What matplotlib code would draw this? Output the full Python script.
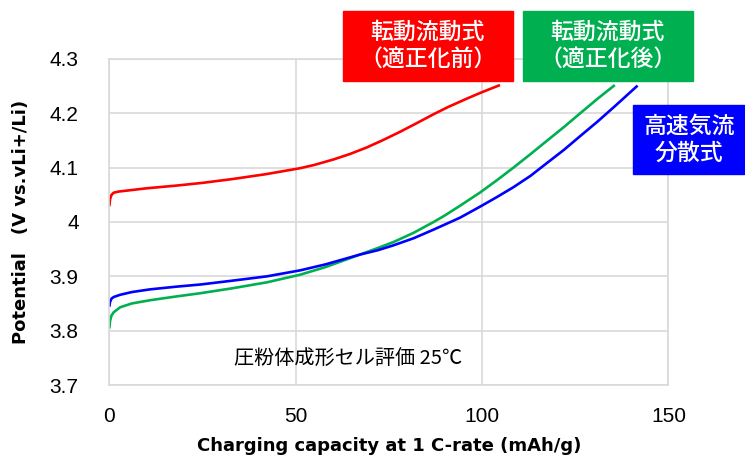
import matplotlib.pyplot as plt

plt.rcParams['font.family'] = ['Noto Sans CJK JP', 'DejaVu Sans']

# curves (capacity mAh/g, potential V)
red_x = [0, 0.2, 0.6, 1.2, 2.5, 5, 10, 18, 25, 33, 42, 51.2, 55, 60.1, 64.5, 69, 73.5, 78, 82.5, 86.9, 91, 95.9, 100, 104.8]
red_y = [4.029, 4.042, 4.050, 4.054, 4.056, 4.058, 4.062, 4.067, 4.072, 4.079, 4.088, 4.099, 4.105, 4.115, 4.125,
         4.137, 4.151, 4.166, 4.182, 4.198, 4.212, 4.227, 4.239, 4.252]

green_x = [0, 0.2, 0.6, 1.2, 2.9, 6, 10.9, 18, 24.5, 33, 42.3, 51.2, 58, 67.2, 72, 76.2, 81.6, 87, 90, 94.1, 99.4,
           104, 108.4, 113, 117.3, 122, 126.3, 131, 135.6]
green_y = [3.804, 3.818, 3.828, 3.834, 3.843, 3.850, 3.856, 3.863, 3.869, 3.878, 3.889, 3.903, 3.917, 3.940, 3.952,
           3.963, 3.980, 4.000, 4.012, 4.030, 4.054, 4.077, 4.100, 4.125, 4.149, 4.175, 4.200, 4.227, 4.252]

blue_x = [0, 0.2, 0.6, 1.2, 2.9, 6, 10.9, 18, 24.5, 33, 42.3, 51.2, 58, 67.2, 72, 76.2, 81.6, 87, 94.1, 99.4,
          104, 108.4, 113, 117.3, 122, 126.3, 131, 135.6, 141.7]
blue_y = [3.844, 3.853, 3.859, 3.862, 3.866, 3.871, 3.876, 3.881, 3.885, 3.892, 3.900, 3.911, 3.922, 3.940, 3.948,
          3.957, 3.970, 3.986, 4.008, 4.028, 4.046, 4.064, 4.085, 4.108, 4.133, 4.158, 4.185, 4.213, 4.251]

labels = ['転動流動式\n（適正化前）', '転動流動式\n（適正化後）', '高速気流\n分散式']
colors = ['#ff0000', '#00b050', '#0000ff']

fig = plt.figure(figsize=(7.45, 4.59), dpi=100)
ax = fig.add_axes([0.1467, 0.1612, 0.7506, 0.7103])

ax.plot(red_x, red_y, color=colors[0], lw=1.9, solid_capstyle='butt')
ax.plot(green_x, green_y, color=colors[1], lw=1.9, solid_capstyle='butt')
ax.plot(blue_x, blue_y, color=colors[2], lw=1.9, solid_capstyle='butt')

ax.set_xlim(0, 150)
ax.set_ylim(3.7, 4.3)
ax.set_xticks([0, 50, 100, 150])
ax.set_yticks([3.7, 3.8, 3.9, 4.0, 4.1, 4.2, 4.3])
ax.set_yticklabels(['3.7', '3.8', '3.9', '4', '4.1', '4.2', '4.3'])
ax.tick_params(length=0, labelsize=15, pad=16)
ax.tick_params(axis='y', pad=22)
for t in ax.get_xticklabels() + ax.get_yticklabels():
    t.set_family('Liberation Sans')
ax.grid(color='#d9d9d9', lw=1.2)
ax.set_axisbelow(True)
for s in ax.spines.values():
    s.set_color('#d9d9d9')
    s.set_linewidth(1.2)

lab_font = ['DejaVu Sans', 'Noto Sans CJK JP']
ax.set_xlabel('Charging capacity at 1 C-rate (mAh/g)', fontsize=13, fontweight='bold',
              family=lab_font, labelpad=8)
ax.set_ylabel('Potential　(V vs.vLi+/Li)', fontsize=13, fontweight='bold',
              family=lab_font, labelpad=14)

ax.text(0.427, 0.08, '圧粉体成形セル評価 25℃', transform=ax.transAxes,
        fontsize=14.5, ha='center', va='center')

# labels boxes (figure pixel coordinates)
boxes = [(342.7, 11, 170, 69.7), (522.7, 11, 170, 69.7), (632.7, 105, 112.3, 69.3)]
W, H = 745, 459
for (bx, by, bw, bh), lab, c in zip(boxes, labels, colors):
    fig.patches.append(plt.Rectangle((bx / W, 1 - (by + bh) / H), bw / W, bh / H,
                                     transform=fig.transFigure, color=c, zorder=5))
    fig.text((bx + bw / 2) / W, 1 - (by + bh / 2) / H, lab, color='white', fontweight='medium',
             fontsize=16.5, ha='center', va='center', linespacing=1.25, zorder=6)

fig.savefig('out.png', dpi=100)
